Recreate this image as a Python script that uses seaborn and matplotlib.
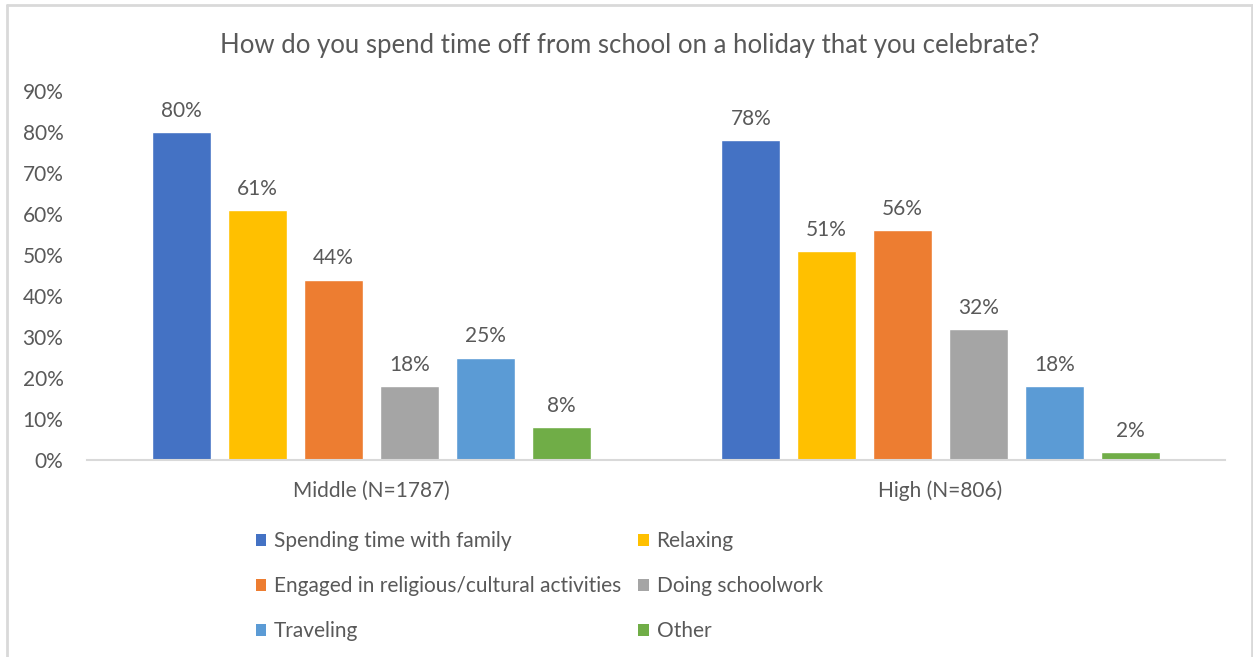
import matplotlib
matplotlib.use("Agg")
import matplotlib.pyplot as plt
from matplotlib.patches import Patch
from matplotlib.lines import Line2D
import seaborn as sns
import pandas as pd

# Survey results: share of students by school level
levels = ["Middle (N=1787)", "High (N=806)"]
activities = [
    "Spending time with family",
    "Relaxing",
    "Engaged in religious/cultural activities",
    "Doing schoolwork",
    "Traveling",
    "Other",
]
middle_pct = [80, 61, 44, 18, 25, 8]
high_pct = [78, 51, 56, 32, 18, 2]
y_ticks = [0, 10, 20, 30, 40, 50, 60, 70, 80, 90]

palette = ["#4472C4", "#FFC000", "#ED7D31", "#A5A5A5", "#5B9BD5", "#70AD47"]
text_color = "#595959"

rows = []
for lvl, vals in zip(levels, [middle_pct, high_pct]):
    for act, v in zip(activities, vals):
        rows.append({"level": lvl, "activity": act, "pct": v / 100})
df = pd.DataFrame(rows)

sns.set_theme(style="white")
plt.rcParams["font.family"] = ["Lato", "DejaVu Sans"]

fig = plt.figure(figsize=(12.53, 6.57), dpi=100)
ax = fig.add_axes([87 / 1253, 1 - 460 / 657, (1225 - 87) / 1253, (460 - 91) / 657])

sns.barplot(
    data=df, x="level", y="pct", hue="activity", order=levels,
    hue_order=activities, palette=palette, width=0.8, gap=0.22,
    saturation=1, legend=False, ax=ax, errorbar=None,
)

for cont in ax.containers:
    ax.bar_label(cont, labels=[f"{b.get_height() * 100:.0f}%" for b in cont],
                 padding=8, fontsize=15, color=text_color)

ax.set_xlim(-0.5, 1.5)
ax.set_ylim(0, 0.9)
ax.set_yticks([t / 100 for t in y_ticks])
ax.set_yticklabels([f"{t}%" for t in y_ticks])
ax.set_xlabel("")
ax.set_ylabel("")
for s in ["top", "right", "left"]:
    ax.spines[s].set_visible(False)
ax.spines["bottom"].set_color("#D9D9D9")
ax.spines["bottom"].set_linewidth(1.5)
ax.tick_params(axis="y", length=0, pad=17, labelsize=15, labelcolor=text_color)
ax.tick_params(axis="x", length=0, pad=15, labelsize=15, labelcolor=text_color)

fig.text(0.5 * (216 + 1043) / 1253, 1 - 45 / 657,
         "How do you spend time off from school on a holiday that you celebrate?",
         ha="center", va="center", fontsize=18.5, color=text_color)

# Legend laid out row by row: matplotlib fills columns first, so reorder
order = [0, 2, 4, 1, 3, 5]
handles = [Patch(facecolor=palette[i], edgecolor="none") for i in order]
labels = [activities[i] for i in order]
fig.legend(handles, labels, ncol=2, loc="upper left",
           bbox_to_anchor=(256 / 1253, 1 - 531 / 657), frameon=False,
           fontsize=15, labelcolor=text_color, handlelength=0.5,
           handleheight=0.5, handletextpad=0.37, labelspacing=1.2,
           columnspacing=0.82, borderpad=0, borderaxespad=0)

# Light frame around the chart area
frame_kw = dict(color="#D9D9D9", linewidth=2, transform=fig.transFigure)
fig.add_artist(Line2D([7 / 1253, 1252 / 1253], [1 - 5 / 657, 1 - 5 / 657], **frame_kw))
fig.add_artist(Line2D([7 / 1253, 7 / 1253], [0, 1 - 5 / 657], **frame_kw))
fig.add_artist(Line2D([1252 / 1253, 1252 / 1253], [0, 1 - 5 / 657], **frame_kw))

fig.savefig("out.png", dpi=100, facecolor="white")
